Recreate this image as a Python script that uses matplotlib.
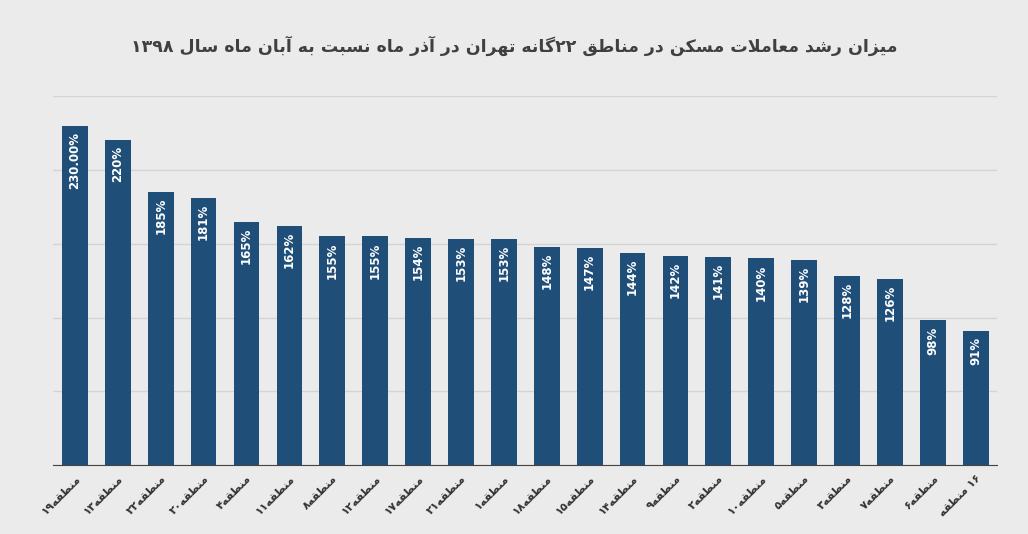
import matplotlib.pyplot as plt

# simple Persian shaping (no arabic_reshaper available)
DUAL = {
    'ب': 0xFE8F, 'ت': 0xFE95, 'ن': 0xFEE5, 'ش': 0xFEB5, 'ع': 0xFEC9, 'ل': 0xFEDD,
    'م': 0xFEE1, 'س': 0xFEB1, 'ه': 0xFEE9, 'ط': 0xFEC1, 'ق': 0xFED5,
    'ی': 0xFBFC, 'ک': 0xFB8E, 'گ': 0xFB92,
}
RIGHT = {'ا': 0xFE8D, 'آ': 0xFE81, 'ز': 0xFEAF, 'ر': 0xFEAD, 'د': 0xFEA9, 'ذ': 0xFEAB}


def shape(text):
    out = []
    i = 0
    n = len(text)
    while i < n:
        c = text[i]
        prev = text[i - 1] if i > 0 else ''
        joins_prev = prev in DUAL
        if c == 'ل' and i + 1 < n and text[i + 1] == 'ا':
            out.append(chr(0xFEFC if joins_prev else 0xFEFB))
            i += 2
            continue
        if c in DUAL:
            nxt = text[i + 1] if i + 1 < n else ''
            joins_next = nxt in DUAL or nxt in RIGHT
            base = DUAL[c]
            if joins_prev and joins_next:
                out.append(chr(base + 3))
            elif joins_prev:
                out.append(chr(base + 1))
            elif joins_next:
                out.append(chr(base + 2))
            else:
                out.append(chr(base))
        elif c in RIGHT:
            out.append(chr(RIGHT[c] + (1 if joins_prev else 0)))
        else:
            out.append(c)
        i += 1
    # visual order: reverse, keep digit runs left-to-right
    runs = []
    for ch in out:
        isdig = '\u06f0' <= ch <= '\u06f9' or ch.isdigit()
        if isdig and runs and runs[-1][0]:
            runs[-1][1].append(ch)
        else:
            runs.append([isdig, [ch]])
    return ''.join(''.join(r[1]) for r in reversed(runs))


title = 'میزان رشد معاملات مسکن در مناطق ۲۲گانه تهران در آذر ماه نسبت به آبان ماه سال ۱۳۹۸'
regions = ['منطقه۱۹', 'منطقه۱۳', 'منطقه۲۲', 'منطقه۲۰', 'منطقه۴', 'منطقه۱۱', 'منطقه۸',
           'منطقه۱۲', 'منطقه۱۷', 'منطقه۲۱', 'منطقه۱', 'منطقه۱۸', 'منطقه۱۵', 'منطقه۱۴',
           'منطقه۹', 'منطقه۲', 'منطقه۱۰', 'منطقه۵', 'منطقه۳', 'منطقه۷', 'منطقه۶', '۱۶ منطقه']
growth = [230, 220, 185, 181, 165, 162, 155, 155, 154, 153, 153, 148, 147, 144,
          142, 141, 140, 139, 128, 126, 98, 91]
value_labels = ['230.00%'] + [f'{v}%' for v in growth[1:]]

plt.rcParams['font.family'] = ['DejaVu Sans']
bg = '#ebebeb'
fig = plt.figure(figsize=(10.28, 5.34), dpi=100, facecolor=bg)
ax = fig.add_axes([0.052, 0.129, 0.918, 0.691], facecolor=bg)

x = list(range(len(growth)))
bars = ax.bar(x, growth, width=0.6, color='#1f4e79', zorder=3)
for b, lab in zip(bars, value_labels):
    ax.text(b.get_x() + b.get_width() / 2, b.get_height() - 4, lab, rotation=90,
            ha='center', va='top', color='white', fontsize=8.5, fontweight='bold', zorder=4)

ax.set_xlim(-0.5, len(growth) - 0.5)
ax.set_ylim(0, 250)
ax.set_yticks([0, 50, 100, 150, 200, 250])
ax.set_yticklabels([])
ax.tick_params(axis='y', length=0)
ax.grid(axis='y', color='#d4d4d4', linewidth=1, zorder=0)
ax.set_xticks(x)
ax.set_xticklabels([shape(r) for r in regions], rotation=45, ha='right',
                   rotation_mode='anchor', fontsize=8, fontweight='bold', color='#333333')
ax.tick_params(axis='x', length=0, pad=6)
for s in ['top', 'right', 'left']:
    ax.spines[s].set_visible(False)
ax.spines['bottom'].set_color('#444444')

fig.text(0.5, 0.915, shape(title), ha='center', va='center', fontsize=12.5,
         fontweight='bold', color='#404040')

fig.savefig('out.png', dpi=100, facecolor=bg)
